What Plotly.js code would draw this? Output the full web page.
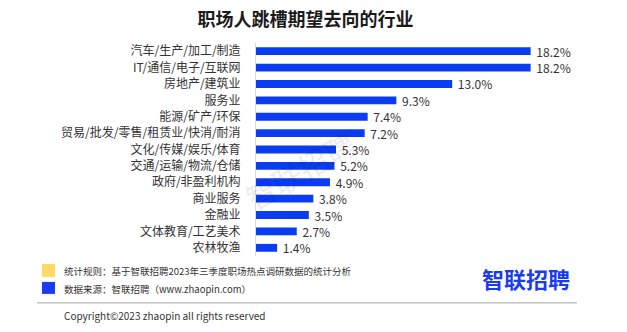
<!DOCTYPE html>
<html>
<head>
<meta charset="utf-8">
<script src="https://cdn.plot.ly/plotly-3.0.1.min.js"></script>
<style>html,body{margin:0;padding:0;background:#fff;}#chart{width:627px;height:332px;}</style>
</head>
<body>
<div id="chart"></div>
<script>
const categories = ["汽车/生产/加工/制造","IT/通信/电子/互联网","房地产/建筑业","服务业","能源/矿产/环保","贸易/批发/零售/租赁业/快消/耐消","文化/传媒/娱乐/体育","交通/运输/物流/仓储","政府/非盈利机构","商业服务","金融业","文体教育/工艺美术","农林牧渔"];
const values = [18.2,18.2,13.0,9.3,7.4,7.2,5.3,5.2,4.9,3.8,3.5,2.7,1.4];
const titleText = "职场人跳槽期望去向的行业";
const note1 = "统计规则：基于智联招聘2023年三季度职场热点调研数据的统计分析";
const note2 = "数据来源：智联招聘（www.zhaopin.com）";
const copyright = "Copyright©2023 zhaopin all rights reserved";
const logo = "智联招聘";

const FONT = '"Noto Sans CJK SC", "Noto Sans", sans-serif';
const PW = 332, PH = 213.5, L = 256, B = 76;
const px = x => (x - L) / PW;
const py = y => (332 - B - y) / PH;
const trace = {
  type: 'bar', orientation: 'h',
  x: values, y: categories,
  marker: {color: '#0a3cf2'},
  width: 0.48,
  text: values.map(v => ' ' + v.toFixed(1) + '%'),
  textposition: 'outside',
  textfont: {family: FONT, size: 12, color: '#333333'},
  constraintext: 'none',
  cliponaxis: false,
  hoverinfo: 'none'
};
const layout = {
  width: 627, height: 332,
  margin: {l: L, r: 627 - L - PW, t: 42.5, b: B},
  paper_bgcolor: '#ffffff', plot_bgcolor: '#ffffff',
  showlegend: false,
  title: {text: '<b>' + titleText + '</b>', font: {family: FONT, size: 18, color: '#1a1a1a'}, x: 305.5/627, xref: 'container', xanchor: 'center', y: 1 - 20/332, yref: 'container', yanchor: 'middle'},
  xaxis: {range: [0, 22], visible: false, fixedrange: true},
  yaxis: {
    type: 'category', autorange: 'reversed',
    showline: true, linecolor: '#d9d9d9', linewidth: 1,
    showgrid: false, zeroline: false, ticks: '', ticklabelstandoff: 12,
    tickfont: {family: FONT, size: 12, color: '#333333'}
  },
  shapes: [
    {type: 'rect', xref: 'paper', yref: 'paper', x0: px(42), x1: px(55), y0: py(277), y1: py(264), fillcolor: '#ffd966', line: {width: 0}},
    {type: 'rect', xref: 'paper', yref: 'paper', x0: px(42), x1: px(55), y0: py(294), y1: py(282), fillcolor: '#1a3cf5', line: {width: 0}},
    {type: 'line', xref: 'paper', yref: 'paper', x0: px(37), x1: px(577), y0: py(303), y1: py(303), line: {color: '#a6a6a6', width: 1}}
  ],
  annotations: [
    {text: note1, xref: 'paper', yref: 'paper', x: px(62), y: py(271), xanchor: 'left', yanchor: 'middle', showarrow: false, font: {family: FONT, size: 9.5, color: '#333333'}},
    {text: note2, xref: 'paper', yref: 'paper', x: px(62), y: py(289.5), xanchor: 'left', yanchor: 'middle', showarrow: false, font: {family: FONT, size: 9.5, color: '#333333'}},
    {text: copyright, xref: 'paper', yref: 'paper', x: px(62), y: py(316), xanchor: 'left', yanchor: 'middle', showarrow: false, font: {family: FONT, size: 10, color: '#333333'}},
    {text: '<b>' + logo + '</b>', xref: 'paper', yref: 'paper', x: px(526), y: py(278.5), xanchor: 'center', yanchor: 'middle', showarrow: false, font: {family: FONT, size: 22, color: '#1a3cf0'}},
    {text: '智联招聘', xref: 'paper', yref: 'paper', x: px(300), y: py(170), xanchor: 'center', yanchor: 'middle', showarrow: false, textangle: -30, opacity: 0.07, font: {family: FONT, size: 30, color: '#000000'}}
  ]
};
Plotly.newPlot('chart', [trace], layout, {staticPlot: true, displayModeBar: false});
</script>
</body>
</html>
